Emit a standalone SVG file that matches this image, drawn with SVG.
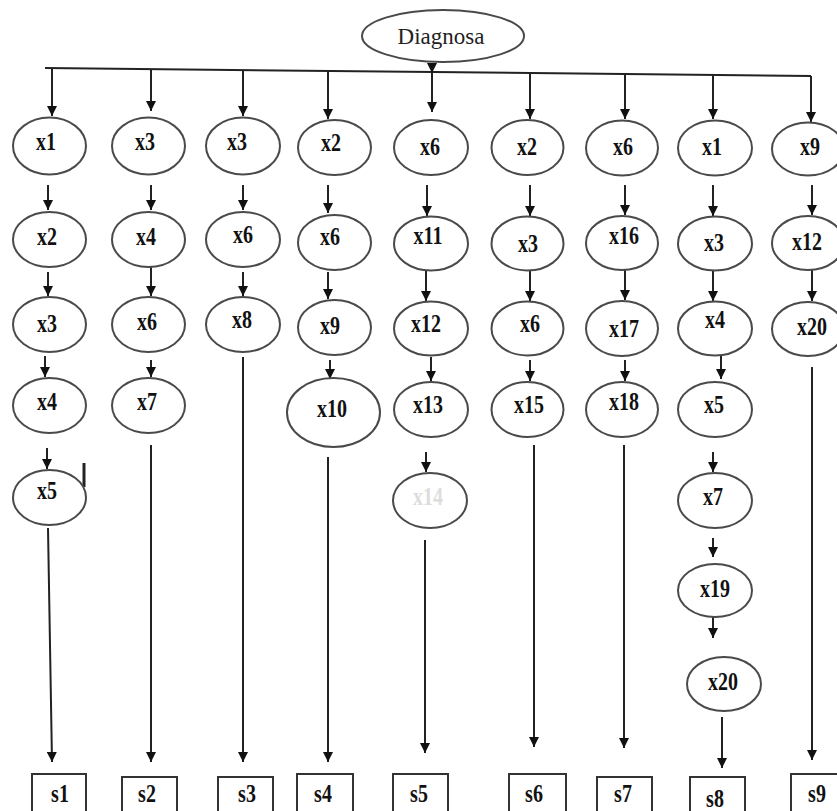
<svg xmlns="http://www.w3.org/2000/svg" width="837" height="811" viewBox="0 0 837 811">
<style>
.n ellipse{fill:#fff;stroke:#4a4a4a;stroke-width:2}
.n text{font-family:"Liberation Serif","Times New Roman",serif;font-weight:bold;font-size:20px;fill:#111;text-anchor:middle}
.b rect{fill:#fff;stroke:#333;stroke-width:2}
.c line,.c polyline{stroke:#222;stroke-width:2;fill:none}
.c .a{marker-end:url(#ah)}
#diagnosa text{font-weight:normal;font-size:23px;fill:#222}
</style>
<defs>
<marker id="ah" markerUnits="userSpaceOnUse" markerWidth="10" markerHeight="10" refX="10" refY="5" orient="auto">
<path d="M0,0 L10,5 L0,10 z" fill="#111"/>
</marker>
</defs>
<rect width="837" height="811" fill="#fff"/>
<g id="connectors" class="c">
<polyline points="45,68 811,76"/>
<line class="a" x1="432" y1="63" x2="432" y2="73"/>
<line class="a" x1="52" y1="68" x2="52" y2="116"/>
<line class="a" x1="48" y1="185" x2="48" y2="210"/>
<line class="a" x1="48" y1="272" x2="48" y2="296"/>
<line class="a" x1="45" y1="356" x2="45" y2="377"/>
<line class="a" x1="47" y1="448" x2="47" y2="469"/>
<line class="a" x1="48" y1="528" x2="52" y2="762"/>
<line x1="84" y1="463" x2="84" y2="487" style="stroke-width:3"/>
<line class="a" x1="151" y1="69" x2="151" y2="111"/>
<line class="a" x1="151" y1="185" x2="151" y2="210"/>
<line class="a" x1="151" y1="265" x2="151" y2="296"/>
<line class="a" x1="151" y1="360" x2="151" y2="377"/>
<line class="a" x1="151" y1="445" x2="151" y2="762"/>
<line class="a" x1="243" y1="70" x2="243" y2="116"/>
<line class="a" x1="243" y1="185" x2="243" y2="210"/>
<line class="a" x1="243" y1="272" x2="243" y2="296"/>
<line class="a" x1="243" y1="357" x2="243" y2="762"/>
<line class="a" x1="328" y1="71" x2="328" y2="119"/>
<line class="a" x1="328" y1="185" x2="328" y2="213"/>
<line class="a" x1="328" y1="272" x2="328" y2="299"/>
<line class="a" x1="330" y1="360" x2="330" y2="379"/>
<line class="a" x1="328" y1="457" x2="328" y2="762"/>
<line class="a" x1="432" y1="73" x2="432" y2="112"/>
<line class="a" x1="427" y1="185" x2="427" y2="216"/>
<line class="a" x1="426" y1="270" x2="426" y2="301"/>
<line class="a" x1="431" y1="357" x2="431" y2="381"/>
<line class="a" x1="426" y1="452" x2="426" y2="472"/>
<line class="a" x1="425" y1="540" x2="425" y2="753"/>
<line class="a" x1="530" y1="72" x2="530" y2="119"/>
<line class="a" x1="530" y1="185" x2="530" y2="216"/>
<line class="a" x1="530" y1="270" x2="530" y2="301"/>
<line class="a" x1="530" y1="360" x2="530" y2="381"/>
<line class="a" x1="534" y1="445" x2="534" y2="747"/>
<line class="a" x1="625" y1="73" x2="625" y2="119"/>
<line class="a" x1="625" y1="185" x2="625" y2="215"/>
<line class="a" x1="625" y1="268" x2="625" y2="300"/>
<line class="a" x1="625" y1="360" x2="625" y2="381"/>
<line class="a" x1="624" y1="445" x2="624" y2="748"/>
<line class="a" x1="713" y1="74" x2="713" y2="119"/>
<line class="a" x1="713" y1="185" x2="713" y2="216"/>
<line class="a" x1="713" y1="270" x2="713" y2="301"/>
<line class="a" x1="721" y1="355" x2="721" y2="379"/>
<line class="a" x1="713" y1="452" x2="713" y2="472"/>
<line class="a" x1="713" y1="538" x2="713" y2="557"/>
<line class="a" x1="713" y1="617" x2="713" y2="638"/>
<line class="a" x1="722" y1="717" x2="722" y2="768"/>
<line class="a" x1="811" y1="76" x2="811" y2="122"/>
<line class="a" x1="812" y1="185" x2="812" y2="215"/>
<line class="a" x1="812" y1="270" x2="812" y2="301"/>
<line class="a" x1="812" y1="367" x2="812" y2="760"/>
</g>
<g id="diagnosa" class="n"><ellipse cx="443" cy="36" rx="81" ry="26"/><text x="441" y="44">Diagnosa</text></g>
<g id="c1-x1" class="n"><ellipse cx="49.5" cy="146" rx="36.5" ry="28.5"/><text transform="translate(46,150) scale(1,1.3)">x1</text></g>
<g id="c1-x2" class="n"><ellipse cx="49.5" cy="239.5" rx="36.5" ry="27.5"/><text transform="translate(47,245) scale(1,1.3)">x2</text></g>
<g id="c1-x3" class="n"><ellipse cx="49.5" cy="324.5" rx="36.5" ry="27.5"/><text transform="translate(47,332) scale(1,1.3)">x3</text></g>
<g id="c1-x4" class="n"><ellipse cx="49.5" cy="405.5" rx="36.5" ry="27.5"/><text transform="translate(47,410) scale(1,1.3)">x4</text></g>
<g id="c1-x5" class="n"><ellipse cx="49.5" cy="497.5" rx="36.5" ry="27.5"/><text transform="translate(47,499) scale(1,1.3)">x5</text></g>
<g id="c2-x3" class="n"><ellipse cx="148.5" cy="146" rx="36.5" ry="28.5"/><text transform="translate(145,150) scale(1,1.3)">x3</text></g>
<g id="c2-x4" class="n"><ellipse cx="148.5" cy="239.5" rx="36.5" ry="27.5"/><text transform="translate(146,245) scale(1,1.3)">x4</text></g>
<g id="c2-x6" class="n"><ellipse cx="148.5" cy="324.5" rx="36.5" ry="27.5"/><text transform="translate(147,330) scale(1,1.3)">x6</text></g>
<g id="c2-x7" class="n"><ellipse cx="148.5" cy="405.5" rx="36.5" ry="27.5"/><text transform="translate(147,410) scale(1,1.3)">x7</text></g>
<g id="c3-x3" class="n"><ellipse cx="243" cy="146" rx="37" ry="28.5"/><text transform="translate(237,150) scale(1,1.3)">x3</text></g>
<g id="c3-x6" class="n"><ellipse cx="243" cy="239.5" rx="37" ry="27.5"/><text transform="translate(243,243) scale(1,1.3)">x6</text></g>
<g id="c3-x8" class="n"><ellipse cx="243" cy="324.5" rx="37" ry="27.5"/><text transform="translate(242,328) scale(1,1.3)">x8</text></g>
<g id="c4-x2" class="n"><ellipse cx="334.5" cy="147.5" rx="36.5" ry="27.5"/><text transform="translate(331,151) scale(1,1.3)">x2</text></g>
<g id="c4-x6" class="n"><ellipse cx="334.5" cy="242.5" rx="36.5" ry="27.5"/><text transform="translate(330,245) scale(1,1.3)">x6</text></g>
<g id="c4-x9" class="n"><ellipse cx="334.5" cy="327.5" rx="36.5" ry="27.5"/><text transform="translate(330,334) scale(1,1.3)">x9</text></g>
<g id="c4-x10" class="n"><ellipse cx="333.5" cy="412.5" rx="46.5" ry="34.5"/><text transform="translate(332,417) scale(1,1.3)">x10</text></g>
<g id="c5-x6" class="n"><ellipse cx="431" cy="147.5" rx="37" ry="27.5"/><text transform="translate(430,155) scale(1,1.3)">x6</text></g>
<g id="c5-x11" class="n"><ellipse cx="431" cy="243.5" rx="37" ry="27"/><text transform="translate(428,244) scale(1,1.3)">x11</text></g>
<g id="c5-x12" class="n"><ellipse cx="431" cy="328.5" rx="37" ry="27"/><text transform="translate(426,332) scale(1,1.3)">x12</text></g>
<g id="c5-x13" class="n"><ellipse cx="431" cy="409.5" rx="37" ry="27.5"/><text transform="translate(428,413) scale(1,1.3)">x13</text></g>
<g id="c5-x14" class="n"><ellipse cx="430" cy="500.5" rx="37" ry="27.5"/><text transform="translate(428,505) scale(1,1.3)" style="fill:#ddd">x14</text></g>
<g id="c6-x2" class="n"><ellipse cx="527.5" cy="147.5" rx="36" ry="27.5"/><text transform="translate(527,155) scale(1,1.3)">x2</text></g>
<g id="c6-x3" class="n"><ellipse cx="527.5" cy="243.5" rx="36" ry="27"/><text transform="translate(528,252) scale(1,1.3)">x3</text></g>
<g id="c6-x6" class="n"><ellipse cx="527.5" cy="328.5" rx="36" ry="27"/><text transform="translate(530,332) scale(1,1.3)">x6</text></g>
<g id="c6-x15" class="n"><ellipse cx="527.5" cy="409.5" rx="36" ry="27.5"/><text transform="translate(529,413) scale(1,1.3)">x15</text></g>
<g id="c7-x6" class="n"><ellipse cx="622" cy="148" rx="36" ry="27.5"/><text transform="translate(623,155) scale(1,1.3)">x6</text></g>
<g id="c7-x16" class="n"><ellipse cx="622" cy="243" rx="36" ry="27"/><text transform="translate(624,244) scale(1,1.3)">x16</text></g>
<g id="c7-x17" class="n"><ellipse cx="622" cy="328.5" rx="36" ry="27.5"/><text transform="translate(624,337) scale(1,1.3)">x17</text></g>
<g id="c7-x18" class="n"><ellipse cx="622" cy="409.5" rx="36" ry="27.5"/><text transform="translate(624,410) scale(1,1.3)">x18</text></g>
<g id="c8-x1" class="n"><ellipse cx="715" cy="148" rx="37" ry="27.5"/><text transform="translate(712,155) scale(1,1.3)">x1</text></g>
<g id="c8-x3" class="n"><ellipse cx="715" cy="243.5" rx="37" ry="27"/><text transform="translate(714,251) scale(1,1.3)">x3</text></g>
<g id="c8-x4" class="n"><ellipse cx="715" cy="328.5" rx="37" ry="27"/><text transform="translate(715,328) scale(1,1.3)">x4</text></g>
<g id="c8-x5" class="n"><ellipse cx="715" cy="409.5" rx="37" ry="27.5"/><text transform="translate(714,413) scale(1,1.3)">x5</text></g>
<g id="c8-x7" class="n"><ellipse cx="715" cy="500.5" rx="37" ry="27.5"/><text transform="translate(713,505) scale(1,1.3)">x7</text></g>
<g id="c8-x19" class="n"><ellipse cx="715" cy="590.5" rx="37" ry="26.5"/><text transform="translate(715,597) scale(1,1.3)">x19</text></g>
<g id="c8-x20" class="n"><ellipse cx="724" cy="684" rx="37" ry="27"/><text transform="translate(723,690) scale(1,1.3)">x20</text></g>
<g id="c9-x9" class="n"><ellipse cx="808" cy="149" rx="36" ry="26.5"/><text transform="translate(810,155) scale(1,1.3)">x9</text></g>
<g id="c9-x12" class="n"><ellipse cx="808" cy="243" rx="36" ry="27"/><text transform="translate(807,250) scale(1,1.3)">x12</text></g>
<g id="c9-x20" class="n"><ellipse cx="808" cy="329" rx="36" ry="27"/><text transform="translate(812,335) scale(1,1.3)">x20</text></g>
<g id="s1" class="n b"><rect x="32" y="774" width="54" height="50"/><text transform="translate(60,802) scale(1,1.25)">s1</text></g>
<g id="s2" class="n b"><rect x="122" y="777" width="55" height="50"/><text transform="translate(147,802) scale(1,1.25)">s2</text></g>
<g id="s3" class="n b"><rect x="218" y="777" width="55" height="50"/><text transform="translate(247,802) scale(1,1.25)">s3</text></g>
<g id="s4" class="n b"><rect x="297" y="774" width="56" height="50"/><text transform="translate(323,802) scale(1,1.25)">s4</text></g>
<g id="s5" class="n b"><rect x="393" y="774" width="55" height="50"/><text transform="translate(419,802) scale(1,1.25)">s5</text></g>
<g id="s6" class="n b"><rect x="509" y="774" width="57" height="50"/><text transform="translate(534,802) scale(1,1.25)">s6</text></g>
<g id="s7" class="n b"><rect x="597" y="777" width="55" height="50"/><text transform="translate(623,802) scale(1,1.25)">s7</text></g>
<g id="s8" class="n b"><rect x="690" y="777" width="55" height="50"/><text transform="translate(715,807) scale(1,1.25)">s8</text></g>
<g id="s9" class="n b"><rect x="791" y="774" width="55" height="50"/><text transform="translate(817,802) scale(1,1.25)">s9</text></g>
</svg>
